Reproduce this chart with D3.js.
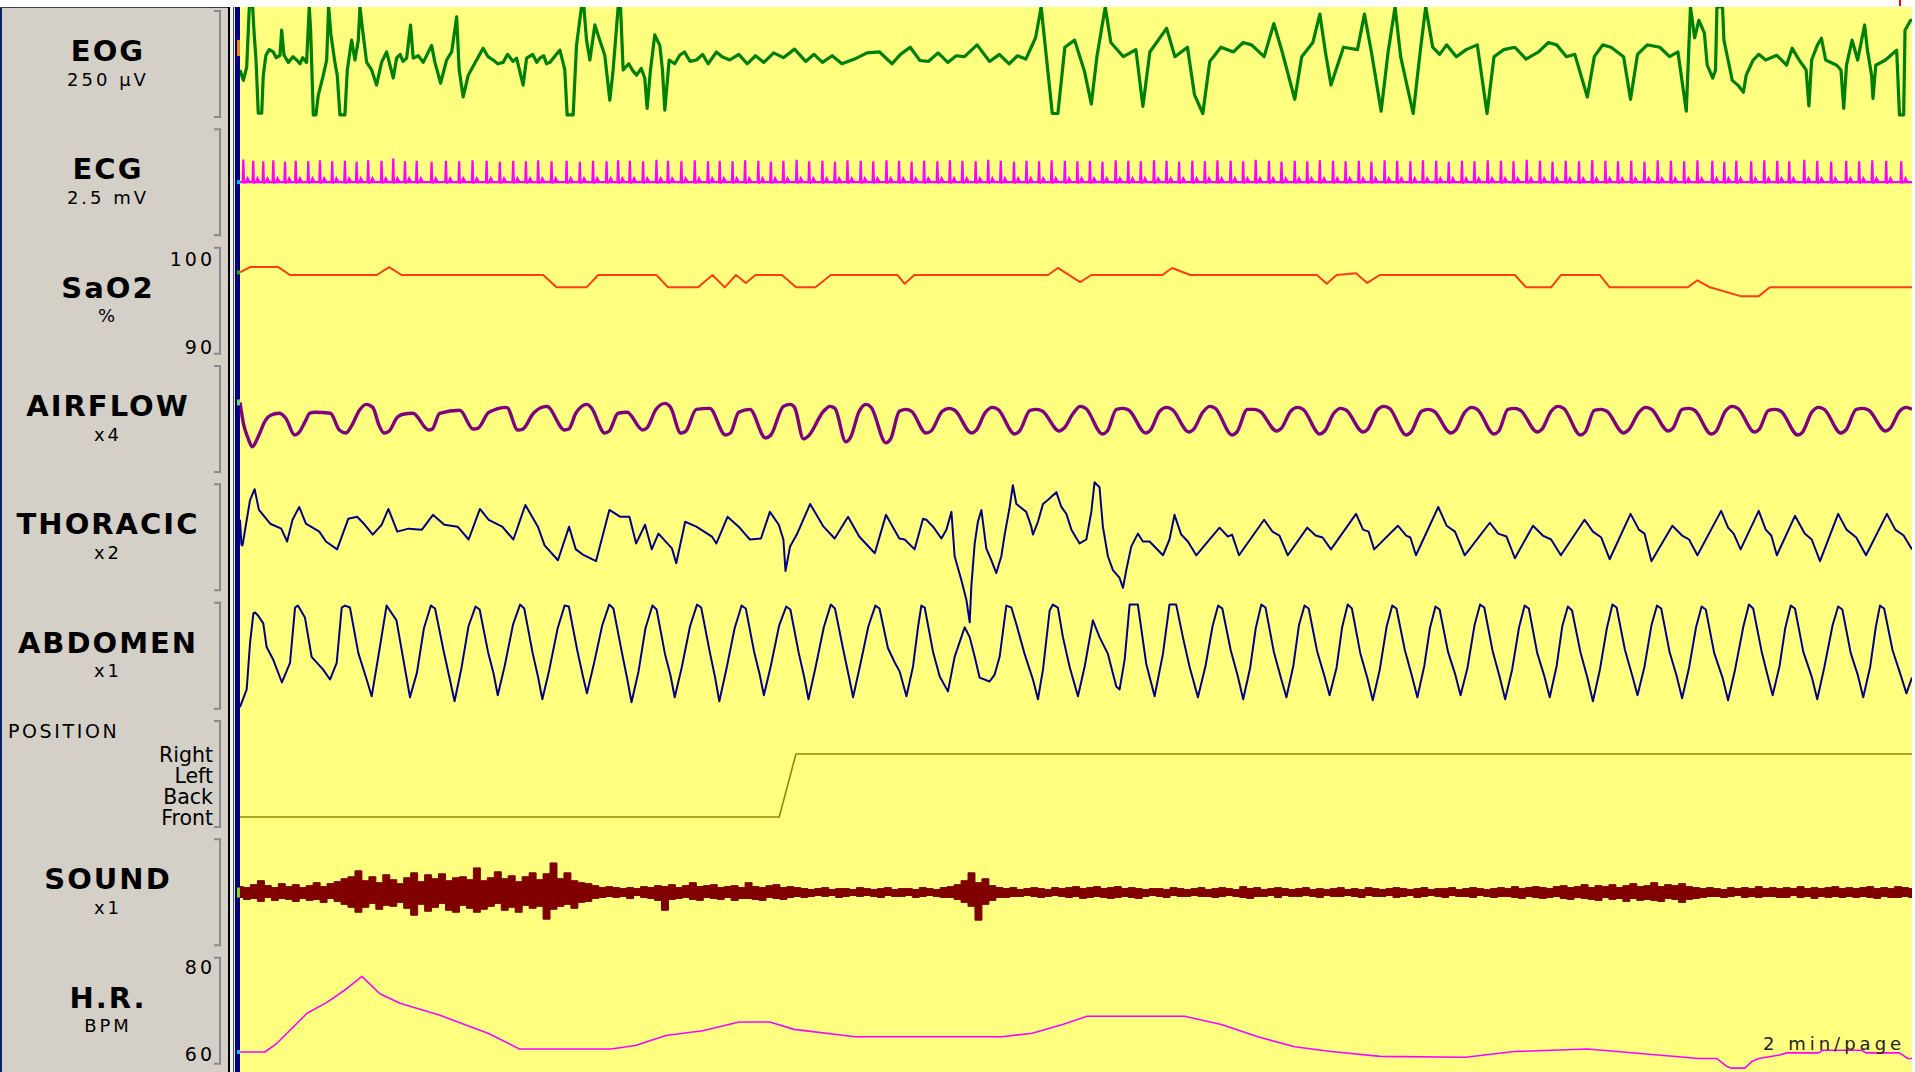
<!DOCTYPE html>
<html>
<head>
<meta charset="utf-8">
<script src="https://cdn.jsdelivr.net/npm/d3@7"></script>
<style>
  body { margin: 0; background: #fff; }
  svg { display: block; }
  text { font-family: 'DejaVu Sans', sans-serif; fill: #000; }
</style>
</head>
<body>
<svg width="1915" height="1072"></svg>
<script>
/* global d3 */

// channel labels (left panel)
const channelNames = ['EOG', 'ECG', 'SaO2', 'AIRFLOW', 'THORACIC', 'ABDOMEN', 'POSITION', 'SOUND', 'H.R.']
const channelUnits = ['250 µV', '2.5 mV', '%', 'x4', 'x2', 'x1', '', 'x1', 'BPM']
const saoTicks = [90, 100]
const hrTicks = [60, 80]
const positions = ['Front', 'Back', 'Left', 'Right']
const pageNote = '2 min/page'

// EOG, µV  [seconds, value]
const eog = [
  [0, -8], [0.24, -30], [0.48, -2], [0.67, 125], [0.91, 125], [1.0, 76], [1.15, 13], [1.31, -99], [1.56, -99], [1.67, -19],
  [1.86, 23], [2.1, 35], [2.39, 30], [2.6, 18], [2.87, 23], [2.99, 76], [3.16, 23], [3.47, 8], [3.8, 20], [4.07, 13],
  [4.3, 5], [4.5, 18], [4.78, 8], [4.97, 125], [5.07, 76], [5.26, -103], [5.45, -103], [5.62, -61], [5.98, -19], [6.22, 13],
  [6.36, 125], [6.53, 66], [6.81, 8], [6.98, -19], [7.17, -103], [7.53, -103], [7.7, -8], [8.01, 55], [8.25, 13], [8.49, 55],
  [8.61, 125], [8.8, 76], [9.09, 8], [9.45, -8], [9.8, -40], [10.16, 8], [10.52, 30], [11.0, -25], [11.24, 17], [11.5, 25],
  [11.7, 10], [11.96, 17], [12.24, 87], [12.43, 17], [12.8, 22], [13.15, 8], [13.75, 44], [13.99, 8], [14.4, -36], [14.83, 13],
  [15.19, 30], [15.55, 104], [15.73, -8], [16.02, -65], [16.38, -19], [16.98, 13], [17.45, 38], [17.8, 20], [18.17, 13], [18.5, 5],
  [18.89, 8], [19.2, 25], [19.6, 10], [19.85, 17], [20.32, -40], [20.57, 17], [21.0, 25], [21.3, 8], [21.52, 17], [21.8, 22],
  [22.0, 5], [22.24, 8], [22.96, 34], [23.31, -8], [23.48, -103], [23.91, -103], [24.15, 44], [24.51, 125], [24.68, 125], [24.87, 55],
  [25.11, 13], [25.47, 87], [25.82, 55], [26.18, 23], [26.54, -72], [26.78, -8], [27.14, 125], [27.31, 125], [27.5, -8], [27.9, 5],
  [28.2, -10], [28.46, -19], [28.8, -5], [29.05, -25], [29.22, -89], [29.46, -8], [29.77, 66], [30.13, 44], [30.32, -8], [30.49, -93],
  [30.8, 13], [31.2, 5], [31.56, 23], [31.9, 30], [32.3, 10], [32.76, 13], [33.2, 25], [33.6, 5], [34.19, 30], [34.6, 20],
  [35.15, 13], [35.8, 25], [36.4, 5], [37.0, 22], [37.6, 8], [38.3, 28], [39.0, 18], [39.8, 36], [40.6, 10], [41.2, 25],
  [41.8, 8], [42.5, 22], [43.2, 5], [44.1, 15], [45.0, 28], [45.9, 30], [46.8, 5], [47.4, 25], [48.1, 40], [48.8, 12],
  [49.4, 10], [50.1, 28], [50.8, 8], [51.4, 22], [52.0, 20], [52.9, 45], [53.8, 10], [54.5, 25], [55.2, 5], [55.8, 22],
  [56.4, 15], [57.1, 60], [57.5, 125], [57.8, 40], [58.3, -100], [58.7, -100], [59.2, 40], [59.9, 55], [60.6, -10], [61.1, -80],
  [61.5, 20], [62.1, 125], [62.5, 50], [63.4, 20], [64.3, 35], [64.8, -85], [65.3, 30], [66.5, 80], [67.1, 20], [68.0, 40],
  [68.5, -60], [69.1, -100], [69.6, 10], [70.4, 40], [71.3, 30], [72.0, 50], [72.6, 45], [73.5, 20], [74.2, 90], [74.8, 30],
  [75.7, -70], [76.2, 20], [77.0, 50], [77.5, 110], [77.9, 30], [78.3, -40], [79.2, 40], [80.2, 35], [80.7, 110], [81.2, 30],
  [81.9, -95], [82.4, 30], [82.9, 125], [83.3, 20], [84.2, -100], [84.7, 30], [85.1, 125], [85.6, 40], [86.1, 25], [86.6, 45],
  [87.3, 20], [88.0, 35], [88.8, 45], [89.5, -100], [90.0, 20], [90.7, 35], [91.5, 40], [92.3, 15], [93.2, 30], [93.9, 50],
  [94.5, 45], [95.2, 20], [95.8, 25], [96.7, -65], [97.2, 20], [97.8, 45], [98.4, 40], [99.3, 20], [99.8, -70], [100.3, 25],
  [101.0, 45], [101.9, 40], [102.6, 20], [103.2, 30], [103.8, -95], [104.1, 125], [104.4, 60], [104.7, 97], [105.1, 70], [105.3, 2],
  [105.7, -25], [105.9, -8], [106.0, 125], [106.4, 125], [106.5, 55], [106.8, 13], [107.1, -30], [107.5, -40], [107.9, -55], [108.1, -19],
  [108.6, 13], [109.0, 25], [109.5, 13], [110.3, 23], [111.0, 2], [111.4, 38], [111.9, 13], [112.4, -8], [112.6, -84], [112.8, 13],
  [113.2, 44], [113.5, 59], [113.8, 13], [114.6, 2], [114.9, -8], [115.1, -89], [115.3, 2], [115.7, 55], [116.1, 13], [116.6, 87],
  [116.8, 34], [117.1, -19], [117.2, -68], [117.4, 2], [118.1, 13], [118.9, 34], [119.1, -103], [119.4, -103], [119.5, 76], [119.9, 97],
  [120, 97]
]

// ECG R-peaks [seconds, mV]
const ecgBeats = [
  [0.24, 0.48], [0.95, 0.45], [1.67, 0.44], [2.39, 0.46], [3.23, 0.43], [4.0, 0.45], [4.9, 0.44], [5.74, 0.46], [6.62, 0.44], [7.53, 0.45],
  [8.37, 0.43], [9.2, 0.46], [10.16, 0.45], [11.0, 0.5], [11.84, 0.44], [12.68, 0.45], [13.75, 0.43], [14.78, 0.45], [15.73, 0.44], [16.69, 0.46],
  [17.7, 0.45], [18.65, 0.43], [19.61, 0.45], [20.52, 0.44], [21.4, 0.46], [22.36, 0.44], [23.44, 0.45], [24.39, 0.43], [25.34, 0.45], [26.31, 0.44],
  [27.14, 0.46], [27.98, 0.45], [28.93, 0.44], [29.89, 0.47], [30.72, 0.45], [31.68, 0.44], [32.64, 0.46], [33.59, 0.44], [34.43, 0.45], [35.35, 0.44],
  [36.25, 0.46], [37.2, 0.45], [38.1, 0.43], [39.0, 0.45], [39.95, 0.47], [40.85, 0.44], [41.8, 0.45], [42.7, 0.43], [43.6, 0.46], [44.55, 0.45],
  [45.45, 0.44], [46.4, 0.46], [47.3, 0.45], [48.2, 0.43], [49.1, 0.45], [50.05, 0.44], [50.95, 0.46], [51.85, 0.45], [52.8, 0.44], [53.7, 0.47],
  [54.6, 0.45], [55.55, 0.43], [56.45, 0.45], [57.35, 0.44], [58.25, 0.46], [59.2, 0.45], [60.1, 0.44], [61.0, 0.45], [61.9, 0.43], [62.85, 0.46],
  [63.75, 0.45], [64.65, 0.44], [65.6, 0.46], [66.5, 0.45], [67.4, 0.43], [68.35, 0.45], [69.25, 0.44], [70.15, 0.46], [71.1, 0.45], [72.0, 0.44],
  [72.9, 0.47], [73.85, 0.45], [74.75, 0.43], [75.7, 0.45], [76.6, 0.44], [77.5, 0.46], [78.45, 0.45], [79.35, 0.44], [80.3, 0.45], [81.2, 0.43],
  [82.15, 0.46], [83.05, 0.45], [84.0, 0.44], [84.9, 0.46], [85.85, 0.45], [86.75, 0.43], [87.7, 0.45], [88.6, 0.44], [89.55, 0.46], [90.5, 0.45],
  [91.4, 0.44], [92.35, 0.47], [93.3, 0.45], [94.2, 0.43], [95.15, 0.45], [96.1, 0.44], [97.05, 0.46], [98.0, 0.45], [98.9, 0.44], [99.85, 0.45],
  [100.8, 0.43], [101.75, 0.46], [102.7, 0.45], [103.65, 0.44], [104.6, 0.46], [105.67, 0.45], [106.53, 0.43], [107.39, 0.45], [108.46, 0.44], [109.4, 0.46],
  [110.33, 0.45], [111.19, 0.44], [112.27, 0.47], [113.2, 0.45], [114.2, 0.43], [115.28, 0.45], [116.21, 0.44], [117.15, 0.46], [118.15, 0.45], [119.23, 0.44]
]

// SaO2, %
const sao2 = [
  [0, 98.5], [0.72, 99.1], [2.75, 99.1], [3.59, 98.2], [9.81, 98.2], [10.71, 99.1], [11.6, 98.2], [21.76, 98.2], [22.72, 96.8], [24.87, 96.8],
  [25.71, 98.2], [29.89, 98.2], [30.72, 96.8], [32.88, 96.8], [33.91, 98.2], [34.79, 96.8], [35.6, 98.2], [36.3, 97.3], [37.0, 98.2], [38.9, 98.2],
  [39.9, 96.8], [41.3, 96.8], [42.4, 98.2], [47.2, 98.2], [47.7, 97.2], [48.4, 98.2], [58.0, 98.2], [58.7, 99.0], [60.3, 97.4], [61.1, 98.2],
  [66.2, 98.2], [66.9, 99.0], [68.2, 98.2], [77.3, 98.2], [78.0, 97.2], [78.7, 98.2], [80.1, 98.4], [80.9, 97.3], [81.8, 98.2], [91.5, 98.2],
  [92.3, 96.8], [94.1, 96.8], [94.8, 98.2], [97.6, 98.2], [98.3, 96.8], [103.9, 96.8], [104.6, 97.6], [105.5, 96.8], [107.7, 95.8], [109.0, 95.8],
  [109.8, 96.8], [120, 96.8]
]

// AIRFLOW, relative units
const airflow = [
  [0, 19], [0.24, -2], [0.57, -17], [0.88, -26], [1.1, -22], [1.36, -14], [1.84, 1], [2.2, 6], [2.8, 8], [3.29, 3],
  [3.92, -14], [4.2, -12], [4.73, 1], [5.0, 8], [5.37, 9], [6.49, 8], [7.13, -9], [7.61, -12], [8.0, -5], [8.57, 11],
  [9.05, 17], [9.53, 14], [10.0, -5], [10.33, -12], [10.7, -10], [11.29, 4], [11.7, 7], [12.41, 8], [13.54, -9], [13.8, -8],
  [14.33, 8], [15.77, 11], [16.74, -8], [17.1, -7], [17.86, 9], [19.14, 14], [19.94, -9], [20.3, -8], [21.06, 8], [22.02, 15],
  [23.3, -9], [23.6, -8], [24.1, 8], [24.9, 17], [25.2, 14], [26.18, -12], [26.5, -10], [27.14, 8], [27.78, 9], [28.9, -9],
  [29.2, -7], [29.86, 12], [30.51, 18], [30.9, 14], [31.63, -12], [32.0, -10], [32.75, 12], [33.71, 13], [34.83, -14], [35.2, -12],
  [35.79, 9], [36.59, 12], [37.71, -17], [38.1, -14], [39.0, 15], [39.48, 17], [39.8, 14], [40.44, -18], [40.8, -15], [41.88, 10],
  [42.35, 15], [42.7, 13], [43.48, -21], [43.8, -17], [44.44, 10], [44.92, 17], [45.3, 14], [46.36, -22], [46.7, -18], [47.32, 10],
  [47.8, 12], [48.2, 10], [49.24, -12], [49.6, -10], [50.4, 10], [50.9, 13], [51.3, 11], [52.5, -12], [52.85, -9], [53.5, 9],
  [54.0, 14], [54.4, 12], [55.6, -13], [55.95, -10], [56.7, 11], [57.2, 12], [57.6, 10], [58.8, -10], [59.15, -7], [59.8, 8],
  [60.3, 15], [60.7, 13], [61.9, -13], [62.25, -10], [62.9, 12], [63.4, 13], [63.8, 11], [65.0, -12], [65.35, -9], [66.0, 10],
  [66.5, 14], [66.9, 12], [68.1, -11], [68.45, -8], [69.1, 9], [69.6, 15], [70.0, 13], [71.2, -14], [71.55, -11], [72.3, 12],
  [72.8, 12], [73.2, 10], [74.4, -10], [74.75, -7], [75.4, 10], [75.9, 14], [76.3, 12], [77.5, -13], [77.85, -10], [78.5, 8],
  [79.0, 13], [79.4, 11], [80.6, -11], [80.95, -8], [81.6, 11], [82.1, 15], [82.5, 13], [83.7, -14], [84.05, -11], [84.8, 10],
  [85.3, 12], [85.7, 10], [86.9, -12], [87.25, -9], [87.9, 9], [88.4, 14], [88.8, 12], [90.0, -13], [90.35, -10], [91.0, 12],
  [91.5, 13], [91.9, 11], [93.1, -11], [93.45, -8], [94.1, 10], [94.6, 15], [95.0, 13], [96.2, -14], [96.55, -11], [97.2, 11],
  [97.7, 12], [98.1, 10], [99.3, -12], [99.65, -9], [100.4, 9], [100.9, 14], [101.3, 12], [102.5, -10], [102.85, -7], [103.5, 12],
  [104.0, 13], [104.4, 11], [105.6, -13], [105.95, -10], [106.6, 10], [107.1, 15], [107.5, 13], [108.7, -11], [109.05, -8], [109.7, 11],
  [110.2, 12], [110.6, 10], [111.8, -14], [112.15, -11], [112.8, 9], [113.3, 14], [113.7, 12], [114.9, -12], [115.25, -9], [116.0, 12],
  [116.5, 13], [116.9, 11], [118.1, -10], [118.45, -7], [119.1, 10], [119.6, 14], [120, 12]
]

// THORACIC effort, relative units
const thoracic = [
  [0, 20], [0.1, -5], [0.18, -6], [0.72, 40], [1.05, 51], [1.36, 30], [2.17, 16], [2.96, 11], [3.38, -2], [3.77, 20],
  [4.25, 33], [4.73, 16], [5.69, 8], [6.17, -2], [6.97, -10], [7.77, 21], [8.41, 23], [8.89, 16], [9.53, 5], [10.17, 15],
  [10.65, 31], [11.29, 8], [12.09, 11], [13.06, 10], [13.85, 25], [14.66, 15], [15.62, 13], [16.41, 0], [17.22, 31], [17.85, 20],
  [18.82, 13], [19.62, 0], [20.48, 35], [21.38, 13], [21.86, -6], [22.82, -21], [23.62, 13], [24.1, -10], [24.58, -15], [25.55, -22],
  [26.51, 30], [27.3, 23], [27.95, 23], [28.43, -4], [29.07, 15], [29.55, -10], [30.03, 6], [31.0, -9], [31.31, -24], [31.95, 18],
  [32.75, 13], [33.87, 3], [34.19, -4], [34.99, 23], [35.79, 13], [36.59, 0], [37.39, 1], [38.03, 28], [38.67, 15], [39.0, 0],
  [39.15, -32], [39.48, -7], [39.96, 5], [40.92, 36], [41.88, 13], [42.68, 1], [43.64, 23], [44.44, 3], [45.56, -14], [46.36, 25],
  [47.32, 1], [47.7, 0], [48.42, -10], [49.02, 21], [49.26, 20], [49.74, 13], [50.34, 1], [50.7, 10], [51.06, 28], [51.29, -17],
  [51.77, -41], [52.13, -61], [52.37, -84], [52.49, -47], [52.73, -4], [52.96, 18], [53.21, 30], [53.56, -9], [53.92, -21], [54.28, -34],
  [54.64, -17], [54.88, 5], [55.24, 33], [55.47, 55], [55.72, 36], [56.43, 28], [56.79, 13], [56.91, 5], [57.27, 18], [57.63, 36],
  [57.98, 40], [58.59, 48], [58.95, 33], [59.31, 26], [59.67, 10], [60.26, -4], [60.74, 0], [61.1, 28], [61.33, 58], [61.69, 53],
  [61.93, 13], [62.29, -17], [62.65, -31], [63.13, -39], [63.37, -49], [63.61, -31], [63.97, -7], [64.44, 6], [64.8, -2], [65.28, -2],
  [66.24, -16], [66.71, 0], [67.07, 25], [67.55, 5], [68.03, -2], [68.63, -16], [70.3, 12], [70.9, 3], [71.2, 5], [71.7, -16],
  [73.5, 20], [74.1, 8], [74.6, 4], [75.2, -16], [76.6, 12], [77.2, 4], [77.7, 2], [78.3, -10], [80.1, 26], [80.6, 10],
  [81.0, 8], [81.4, -10], [83.1, 14], [83.7, 4], [84.0, 2], [84.4, -16], [86.0, 33], [86.6, 14], [87.2, 8], [87.9, -16],
  [89.7, 17], [90.3, 6], [90.9, 3], [91.5, -19], [92.8, 14], [93.5, 4], [94.1, 0], [94.8, -16], [96.5, 20], [97.1, 8],
  [97.7, 2], [98.3, -20], [99.8, 26], [100.4, 10], [100.8, 6], [101.3, -22], [102.8, 14], [103.5, 4], [104.0, 0], [104.6, -16],
  [106.3, 29], [106.8, 12], [107.2, 6], [107.7, -10], [109.0, 29], [109.5, 10], [109.9, 4], [110.3, -16], [111.6, 24], [112.3, 6],
  [112.8, 0], [113.4, -22], [114.7, 26], [115.3, 10], [116.0, 2], [116.7, -16], [118.2, 26], [118.8, 10], [119.4, 4], [120, -10]
]

// ABDOMEN effort, relative units
const abdomen = [
  [0, -50], [0.48, -32], [0.72, 15], [0.96, 45], [1.08, 46], [1.29, 43], [1.67, 35], [1.91, 11], [2.39, -2], [3.01, -25],
  [3.59, -5], [3.95, 51], [4.16, 53], [4.66, 41], [5.14, 1], [5.97, -12], [6.46, -22], [6.94, -5], [7.3, 51], [7.53, 53],
  [7.89, 51], [8.49, 5], [9.09, -22], [9.45, -39], [10.04, 11], [10.52, 53], [11.23, 38], [12.2, -40], [12.7, -15], [13.2, 30],
  [13.7, 53], [14.0, 50], [14.6, 8], [15.0, -18], [15.4, -44], [15.9, -10], [16.4, 32], [16.9, 52], [17.2, 49], [17.8, 6],
  [18.2, -16], [18.5, -38], [19.0, -8], [19.6, 34], [20.1, 54], [20.4, 50], [21.0, 5], [21.4, -20], [21.7, -42], [22.2, -12],
  [22.8, 30], [23.3, 53], [23.6, 52], [24.2, 8], [24.6, -18], [24.9, -36], [25.4, -6], [26.0, 33], [26.5, 54], [26.8, 50],
  [27.4, 6], [27.8, -22], [28.1, -45], [28.6, -14], [29.1, 30], [29.6, 53], [29.9, 49], [30.5, 4], [30.9, -18], [31.2, -40],
  [31.7, -10], [32.3, 32], [32.8, 54], [33.1, 51], [33.7, 7], [34.1, -20], [34.4, -44], [34.9, -12], [35.5, 30], [36.0, 53],
  [36.3, 50], [36.9, 6], [37.3, -17], [37.6, -38], [38.1, -8], [38.7, 33], [39.2, 52], [39.5, 49], [40.1, 5], [40.5, -20],
  [40.8, -42], [41.3, -10], [41.9, 31], [42.4, 54], [42.7, 50], [43.3, 8], [43.7, -19], [44.0, -40], [44.5, -8], [45.1, 32],
  [45.6, 53], [45.9, 50], [46.5, 10], [47.0, -5], [47.35, -14], [47.83, -39], [48.3, -9], [48.66, 31], [48.9, 53], [49.14, 51],
  [49.74, 6], [50.22, -19], [50.81, -34], [51.29, 1], [52.01, 31], [52.37, 21], [52.73, 1], [53.08, -20], [53.8, -24], [54.16, -17],
  [54.52, 1], [55.0, 53], [55.36, 51], [55.72, 34], [56.31, 4], [56.91, -22], [57.27, -42], [57.63, -12], [58.11, 48], [58.34, 54],
  [58.7, 51], [59.06, 21], [59.54, -9], [60.14, -39], [60.62, -9], [61.21, 38], [61.69, 21], [62.29, 4], [62.89, -29], [63.13, -32],
  [63.49, -2], [63.85, 54], [64.44, 54], [65.04, -6], [65.64, -39], [66.24, 4], [66.71, 54], [67.19, 54], [67.67, 21], [68.15, -9],
  [68.75, -40], [69.3, -8], [69.8, 32], [70.2, 53], [70.5, 50], [71.1, 8], [71.6, -18], [72.0, -42], [72.5, -10], [72.9, 30],
  [73.3, 54], [73.6, 51], [74.2, 6], [74.7, -20], [75.1, -40], [75.6, -8], [76.0, 33], [76.4, 53], [76.7, 50], [77.3, 7],
  [77.8, -17], [78.2, -38], [78.7, -10], [79.1, 31], [79.5, 54], [79.8, 50], [80.4, 5], [80.9, -20], [81.3, -43], [81.8, -12],
  [82.3, 32], [82.7, 53], [83.0, 50], [83.6, 8], [84.1, -18], [84.5, -40], [85.0, -8], [85.4, 30], [85.8, 52], [86.1, 49],
  [86.7, 6], [87.2, -16], [87.6, -38], [88.1, -10], [88.6, 33], [89.0, 54], [89.3, 51], [89.9, 7], [90.4, -19], [90.8, -42],
  [91.3, -12], [91.8, 31], [92.2, 53], [92.5, 50], [93.1, 5], [93.6, -18], [94.0, -40], [94.5, -8], [94.9, 32], [95.3, 52],
  [95.6, 48], [96.2, 6], [96.7, -20], [97.1, -44], [97.6, -12], [98.1, 30], [98.5, 54], [98.8, 51], [99.4, 8], [99.9, -17],
  [100.3, -38], [100.8, -9], [101.3, 33], [101.7, 53], [102.0, 50], [102.6, 6], [103.1, -18], [103.5, -41], [104.0, -10], [104.5, 31],
  [104.9, 52], [105.2, 49], [105.8, 5], [106.4, -20], [106.8, -43], [107.3, -12], [107.9, 32], [108.3, 54], [108.6, 50], [109.2, 7],
  [109.6, -16], [110.0, -38], [110.5, -8], [110.9, 30], [111.3, 53], [111.6, 50], [112.2, 6], [112.8, -19], [113.2, -42], [113.7, -10],
  [114.3, 33], [114.7, 52], [115.0, 49], [115.6, 5], [116.1, -17], [116.5, -40], [117.0, -9], [117.4, 31], [117.7, 53], [118.0, 50],
  [118.6, 8], [119.2, -18], [119.6, -36], [120, -20]
]

// body position [seconds, position]
const position = [[0, 'Front'], [38.7, 'Front'], [39.9, 'Right'], [120, 'Right']]

// SOUND envelope [seconds, upper, lower]
const sound = [
  [0, 6, 5], [0.5, 5, 7], [1, 8, 6], [1.5, 12, 9], [2, 7, 5], [2.5, 5, 8], [3, 9, 6], [3.5, 6, 7], [4, 8, 9], [4.5, 5, 6],
  [5, 7, 8], [5.5, 10, 7], [6, 6, 10], [6.5, 9, 6], [7, 11, 9], [7.5, 14, 12], [8, 16, 15], [8.5, 22, 20], [9, 12, 15], [9.5, 16, 11],
  [10, 10, 17], [10.5, 18, 13], [11, 13, 14], [11.5, 9, 10], [12, 15, 16], [12.5, 20, 23], [13, 11, 12], [13.5, 18, 19], [14, 14, 15], [14.5, 19, 11],
  [15, 12, 18], [15.5, 15, 20], [16, 16, 13], [16.5, 13, 16], [17, 25, 20], [17.5, 12, 17], [18, 15, 14], [18.5, 21, 11], [19, 14, 18], [19.5, 17, 15],
  [20, 11, 20], [20.5, 16, 13], [21, 20, 16], [21.5, 13, 14], [22, 19, 27], [22.5, 30, 17], [23, 14, 14], [23.5, 20, 12], [24, 12, 16], [24.5, 10, 10],
  [25, 9, 9], [25.5, 7, 6], [26, 5, 5], [26.5, 6, 4], [27, 5, 5], [27.5, 4, 4], [28, 5, 6], [28.5, 4, 3], [29, 6, 5], [29.5, 5, 6],
  [30, 7, 8], [30.5, 6, 18], [31, 8, 7], [31.5, 5, 6], [32, 7, 5], [32.5, 10, 7], [33, 6, 8], [33.5, 7, 5], [34, 8, 6], [34.5, 5, 7],
  [35, 6, 5], [35.5, 7, 8], [36, 5, 6], [36.5, 10, 6], [37, 6, 7], [37.5, 5, 8], [38, 7, 5], [38.5, 8, 6], [39, 5, 7], [39.5, 6, 5],
  [40, 5, 4], [40.5, 4, 5], [41, 3, 4], [41.5, 4, 3], [42, 5, 4], [42.5, 3, 3], [43, 4, 5], [43.5, 4, 4], [44, 3, 3], [44.5, 5, 4],
  [45, 4, 3], [45.5, 3, 4], [46, 4, 5], [46.5, 5, 3], [47, 3, 4], [47.5, 4, 4], [48, 4, 3], [48.5, 3, 5], [49, 5, 4], [49.5, 4, 3],
  [50, 3, 4], [50.5, 5, 5], [51, 6, 5], [51.5, 8, 7], [52, 12, 10], [52.5, 20, 14], [53, 10, 28], [53.5, 14, 12], [54, 7, 8], [54.5, 5, 5],
  [55, 4, 5], [55.5, 5, 4], [56, 3, 4], [56.5, 4, 3], [57, 5, 4], [57.5, 4, 5], [58, 3, 4], [58.5, 5, 3], [59, 4, 4], [59.5, 5, 5],
  [60, 6, 4], [60.5, 4, 6], [61, 5, 5], [61.5, 6, 4], [62, 4, 5], [62.5, 5, 6], [63, 6, 5], [63.5, 4, 4], [64, 5, 5], [64.5, 4, 6],
  [65, 3, 4], [65.5, 4, 3], [66, 4, 4], [66.5, 3, 5], [67, 5, 3], [67.5, 4, 4], [68, 3, 4], [68.5, 4, 3], [69, 5, 4], [69.5, 3, 4],
  [70, 4, 5], [70.5, 5, 4], [71, 4, 3], [71.5, 3, 4], [72, 6, 5], [72.5, 4, 6], [73, 5, 4], [73.5, 3, 4], [74, 4, 3], [74.5, 5, 5],
  [75, 4, 3], [75.5, 3, 4], [76, 4, 4], [76.5, 5, 3], [77, 3, 4], [77.5, 4, 5], [78, 3, 3], [78.5, 4, 4], [79, 5, 4], [79.5, 3, 3],
  [80, 4, 4], [80.5, 3, 5], [81, 5, 3], [81.5, 4, 4], [82, 3, 4], [82.5, 4, 3], [83, 5, 5], [83.5, 4, 4], [84, 3, 3], [84.5, 4, 5],
  [85, 5, 4], [85.5, 3, 3], [86, 4, 4], [86.5, 4, 5], [87, 5, 3], [87.5, 3, 4], [88, 4, 4], [88.5, 5, 5], [89, 4, 3], [89.5, 3, 4],
  [90, 4, 5], [90.5, 5, 4], [91, 4, 4], [91.5, 6, 5], [92, 4, 6], [92.5, 5, 4], [93, 6, 5], [93.5, 5, 6], [94, 4, 5], [94.5, 6, 4],
  [95, 7, 6], [95.5, 5, 7], [96, 6, 5], [96.5, 8, 6], [97, 5, 7], [97.5, 7, 8], [98, 6, 5], [98.5, 8, 7], [99, 5, 6], [99.5, 7, 9],
  [100, 9, 6], [100.5, 6, 8], [101, 7, 7], [101.5, 10, 8], [102, 6, 9], [102.5, 8, 6], [103, 7, 7], [103.5, 9, 10], [104, 6, 7], [104.5, 5, 6],
  [105, 4, 5], [105.5, 5, 4], [106, 4, 4], [106.5, 3, 5], [107, 5, 4], [107.5, 4, 3], [108, 5, 5], [108.5, 4, 4], [109, 6, 5], [109.5, 4, 4],
  [110, 5, 4], [110.5, 4, 5], [111, 5, 5], [111.5, 4, 3], [112, 6, 5], [112.5, 4, 4], [113, 5, 6], [113.5, 4, 4], [114, 5, 5], [114.5, 6, 4],
  [115, 4, 5], [115.5, 5, 4], [116, 4, 5], [116.5, 5, 4], [117, 6, 5], [117.5, 4, 6], [118, 5, 4], [118.5, 4, 5], [119, 6, 5], [119.5, 5, 4],
  [120, 4, 5]
]

// heart rate, BPM
const heartRate = [
  [0, 60.5], [1.79, 60.5], [2.65, 62.5], [3.37, 64.8], [4.81, 69.4], [6.24, 71.9], [7.68, 75.1], [8.75, 77.9], [10.04, 73.9], [11.48, 71.7],
  [14.3, 69.0], [17.8, 64.8], [20.06, 61.2], [26.63, 61.2], [28.38, 62.0], [30.57, 64.3], [33.2, 65.4], [35.83, 67.4], [38.02, 67.4], [39.77, 65.7],
  [44.15, 64.0], [54.66, 64.0], [56.85, 64.8], [59.04, 66.8], [60.79, 68.7], [67.8, 68.7], [70.43, 66.8], [73.06, 64.0], [75.69, 61.7], [78.31, 60.6],
  [81.82, 59.5], [87.95, 59.3], [91.45, 60.6], [96.71, 61.2], [104.7, 59.0], [106.0, 59.0], [106.7, 57.2], [107.0, 56.8], [108.0, 56.8], [108.5, 58.3],
  [109.0, 59.0], [110.5, 59.8], [111.0, 60.3], [113.3, 60.3], [113.6, 60.9], [116.4, 60.9], [116.7, 60.3], [119.1, 60.3], [119.7, 59.0], [120, 59.0]
]

const svg = d3.select('svg')
const width = +svg.attr('width')
const height = +svg.attr('height')

const plotLeft = 240
const plotRight = 1912
const plotTop = 7
const panelRight = 228
const rowH = (height - plotTop) / channelNames.length
const rowTop = (i) => plotTop + i * rowH

const x = d3.scaleLinear().domain([0, 120]).range([plotLeft, plotRight])
const rowScale = (i, domain) => d3.scaleLinear().domain(domain).range([rowTop(i) + rowH, rowTop(i)])

const yEog = rowScale(0, [-125, 125])
const yEcg = rowScale(1, [-1.3, 1.2])
const ySao = d3.scaleLinear().domain([90, 100]).range([rowTop(2) + 103.5, rowTop(2) + 15.5])
const yAir = rowScale(3, [-60, 60])
const yTho = rowScale(4, [-60, 60])
const yAbd = rowScale(5, [-60, 60])
const yPos = d3.scalePoint().domain(positions).range([rowTop(6) + 100, rowTop(6) + 37])
const ySnd = rowScale(7, [-62, 58])
const yHr = d3.scaleLinear().domain([60, 80]).range([rowTop(8) + 100.5, rowTop(8) + 13.5])

// frame
svg.append('rect').attr('width', width).attr('height', height).attr('fill', '#fff')
svg.append('rect')
  .attr('x', 0).attr('y', plotTop)
  .attr('width', panelRight).attr('height', height - plotTop)
  .attr('fill', '#d4d0c8')
svg.append('rect').attr('x', 0).attr('y', plotTop).attr('width', 2).attr('height', height - plotTop).attr('fill', '#0a246a')
svg.append('rect').attr('x', 0).attr('y', plotTop).attr('width', panelRight).attr('height', 1).attr('fill', '#404040')

const seps = [
  { x: 228, w: 2, c: '#000' },
  { x: 230, w: 3, c: '#f4f4f4' },
  { x: 233, w: 1, c: '#505050' },
  { x: 234, w: 1, c: '#e8e8e8' },
  { x: 235, w: 5, c: '#000080' }
]
svg.selectAll('rect.sep').data(seps).enter().append('rect')
  .attr('class', 'sep')
  .attr('x', (d) => d.x).attr('y', plotTop)
  .attr('width', (d) => d.w).attr('height', height - plotTop)
  .attr('fill', (d) => d.c)

svg.append('rect')
  .attr('x', plotLeft).attr('y', plotTop)
  .attr('width', plotRight - plotLeft).attr('height', height - plotTop)
  .attr('fill', '#ffff80')

svg.append('rect').attr('x', 1899).attr('y', 0).attr('width', 2).attr('height', 6).attr('fill', '#ff0000')

svg.append('clipPath').attr('id', 'plotClip')
  .append('rect')
  .attr('x', plotLeft).attr('y', plotTop)
  .attr('width', plotRight - plotLeft).attr('height', height - plotTop)

// brackets and labels
const panel = svg.append('g')

panel.selectAll('path.bracket').data(channelNames).enter().append('path')
  .attr('class', 'bracket')
  .attr('d', (d, i) => `M214,${rowTop(i) + 4}H220V${rowTop(i) + 110}H214`)
  .attr('fill', 'none')
  .attr('stroke', '#8a8a8a')
  .attr('stroke-width', 2)

const mainLabels = channelNames.map((name, i) => ({ name, unit: channelUnits[i], i }))
  .filter((d) => d.name !== 'POSITION')

panel.selectAll('text.chname').data(mainLabels).enter().append('text')
  .attr('class', 'chname')
  .attr('x', 108)
  .attr('y', (d) => rowTop(d.i) + 54)
  .attr('text-anchor', 'middle')
  .style('font-size', '29px')
  .style('font-weight', 'bold')
  .style('letter-spacing', '2px')
  .text((d) => d.name)

panel.selectAll('text.chunit').data(mainLabels).enter().append('text')
  .attr('class', 'chunit')
  .attr('x', 108)
  .attr('y', (d) => rowTop(d.i) + 78.5)
  .attr('text-anchor', 'middle')
  .style('font-size', '18px')
  .style('letter-spacing', '3px')
  .text((d) => d.unit)

panel.append('text')
  .attr('x', 8)
  .attr('y', rowTop(6) + 21)
  .style('font-size', '19px')
  .style('letter-spacing', '2.6px')
  .text('POSITION')

panel.selectAll('text.pos').data(positions).enter().append('text')
  .attr('class', 'pos')
  .attr('x', 213)
  .attr('y', (d) => yPos(d) + 7.5)
  .attr('text-anchor', 'end')
  .style('font-size', '20.5px')
  .text((d) => d)

const tickLabels = saoTicks.map((v) => ({ v, y: ySao(v) }))
  .concat(hrTicks.map((v) => ({ v, y: yHr(v) })))

panel.selectAll('text.tick').data(tickLabels).enter().append('text')
  .attr('class', 'tick')
  .attr('x', 215)
  .attr('y', (d) => d.y + 6.5)
  .attr('text-anchor', 'end')
  .style('font-size', '19px')
  .style('letter-spacing', '3px')
  .text((d) => d.v)

// traces
const g = svg.append('g').attr('clip-path', 'url(#plotClip)')

const trace = (data, yScale, color, strokeWidth, curve = d3.curveLinear) => {
  const line = d3.line().x((d) => x(d[0])).y((d) => yScale(d[1])).curve(curve)
  g.append('path')
    .datum(data)
    .attr('d', line)
    .attr('fill', 'none')
    .attr('stroke', color)
    .attr('stroke-width', strokeWidth)
    .attr('stroke-linejoin', 'round')
}

trace(eog, yEog, '#008000', 3.2)

// ECG: baseline plus one spike and T wave per beat
const ecgPath = d3.path()
ecgPath.moveTo(x(0), yEcg(0))
ecgPath.lineTo(x(120), yEcg(0))
ecgBeats.forEach(([t, amp]) => {
  ecgPath.moveTo(x(t - 0.05), yEcg(0))
  ecgPath.lineTo(x(t), yEcg(amp))
  ecgPath.lineTo(x(t + 0.05), yEcg(-0.03))
  ecgPath.lineTo(x(t + 0.09), yEcg(0))
  ecgPath.moveTo(x(t + 0.2), yEcg(0))
  ecgPath.lineTo(x(t + 0.3), yEcg(0.08))
  ecgPath.lineTo(x(t + 0.45), yEcg(0))
})
g.append('path')
  .attr('d', ecgPath.toString())
  .attr('fill', 'none')
  .attr('stroke', '#ff00ff')
  .attr('stroke-width', 2.2)

trace(sao2, ySao, '#ff3c14', 2)
trace(airflow, yAir, '#800080', 3.4, d3.curveMonotoneX)
trace(thoracic, yTho, '#000080', 2)
trace(abdomen, yAbd, '#000080', 2)
trace(position, yPos, '#8c8c00', 1.6)

// SOUND: stepped envelope round a solid baseline
const soundArea = d3.area()
  .x((d) => x(d[0]))
  .y0((d) => ySnd(-d[2]))
  .y1((d) => ySnd(d[1]))
  .curve(d3.curveStep)
g.append('path')
  .datum(sound)
  .attr('d', soundArea)
  .attr('fill', '#800000')
  .attr('stroke', '#800000')
  .attr('stroke-width', 1)
g.append('line')
  .attr('x1', x(0)).attr('x2', x(120))
  .attr('y1', ySnd(0)).attr('y2', ySnd(0))
  .attr('stroke', '#800000')
  .attr('stroke-width', 4)

trace(heartRate, yHr, '#ff00ff', 1.6)

// channel start markers
const markers = [
  { y: yEog(eog[0][1]) - 30, h: 16, c: '#ff8000' },
  { y: yEcg(0) - 2, h: 4, c: '#00c0ff' },
  { y: ySao(sao2[0][1]) - 2, h: 4, c: '#00c000' },
  { y: yAir(airflow[0][1]) - 3, h: 6, c: '#60e060' },
  { y: ySnd(0) - 5, h: 10, c: '#80e000' },
  { y: yHr(heartRate[0][1]) - 2, h: 4, c: '#00c0ff' }
]
svg.selectAll('rect.marker').data(markers).enter().append('rect')
  .attr('class', 'marker')
  .attr('x', 237).attr('width', 3)
  .attr('y', (d) => d.y).attr('height', (d) => d.h)
  .attr('fill', (d) => d.c)

svg.append('text')
  .attr('x', 1763)
  .attr('y', 1050)
  .style('font-size', '18px')
  .style('letter-spacing', '4px')
  .style('fill', '#222')
  .text(pageNote)
</script>
</body>
</html>
